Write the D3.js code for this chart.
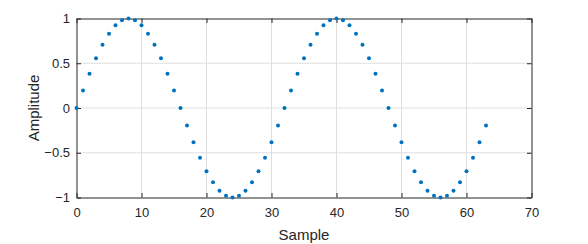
<!DOCTYPE html>
<html>
<head>
<meta charset="utf-8">
<script src="https://cdn.jsdelivr.net/npm/d3@7"></script>
<style>
  body { margin: 0; background: #fff; }
  text { font-family: "Liberation Sans", Arial, sans-serif; fill: #262626; }
</style>
</head>
<body>
<script>
"use strict";

// sample amplitudes (64 samples, index 0..63)
const amplitude = [
  0, 0.195, 0.383, 0.556, 0.707, 0.831, 0.924, 0.981,
  1, 0.981, 0.924, 0.831, 0.707, 0.556, 0.383, 0.195,
  0, -0.195, -0.383, -0.556, -0.707, -0.831, -0.924, -0.981,
  -1, -0.981, -0.924, -0.831, -0.707, -0.556, -0.383, -0.195,
  0, 0.195, 0.383, 0.556, 0.707, 0.831, 0.924, 0.981,
  1, 0.981, 0.924, 0.831, 0.707, 0.556, 0.383, 0.195,
  0, -0.195, -0.383, -0.556, -0.707, -0.831, -0.924, -0.981,
  -1, -0.981, -0.924, -0.831, -0.707, -0.556, -0.383, -0.195
];
const xTicks = [0, 10, 20, 30, 40, 50, 60, 70];
const yTicks = [-1, -0.5, 0, 0.5, 1];

const w = 588;
const h = 244;
const plotLeft = 76.5, plotRight = 531.5, plotTop = 18.5, plotBottom = 197.5;

const svg = d3.select("body").append("svg").attr("width", w).attr("height", h);

const x = d3.scaleLinear().domain([0, 70]).range([plotLeft, plotRight]);
const y = d3.scaleLinear().domain([-1, 1]).range([plotBottom, plotTop]);

//grid
svg.append("g")
  .selectAll("line")
  .data(xTicks.slice(1, -1))
  .join("line")
  .attr("x1", (d) => x(d)).attr("x2", (d) => x(d))
  .attr("y1", plotTop).attr("y2", plotBottom)
  .attr("stroke", "#dfdfdf").attr("stroke-width", 1);

svg.append("g")
  .selectAll("line")
  .data(yTicks.slice(1, -1))
  .join("line")
  .attr("y1", (d) => y(d)).attr("y2", (d) => y(d))
  .attr("x1", plotLeft).attr("x2", plotRight)
  .attr("stroke", "#dfdfdf").attr("stroke-width", 1);

//axes with inward ticks, box like matlab
const styleAxis = (g) => {
  g.selectAll("line").attr("stroke", "#262626");
  g.select(".domain").attr("stroke", "#262626");
  g.selectAll("text").attr("fill", "#262626").style("font-size", "13px")
    .style("font-family", '"Liberation Sans", Arial, sans-serif');
};

svg.append("g")
  .attr("transform", `translate(0, ${plotBottom})`)
  .call(d3.axisBottom(x).tickValues(xTicks).tickSizeInner(-4.5).tickSizeOuter(0).tickPadding(10))
  .call(styleAxis);

svg.append("g")
  .attr("transform", `translate(${plotLeft}, 0)`)
  .call(d3.axisLeft(y).tickValues(yTicks).tickFormat(d3.format("")).tickSizeInner(-4.5).tickSizeOuter(0).tickPadding(6.5))
  .call(styleAxis);

svg.append("g")
  .attr("transform", `translate(0, ${plotTop})`)
  .call(d3.axisTop(x).tickValues(xTicks).tickSizeInner(-4.5).tickSizeOuter(0).tickFormat(""))
  .call(styleAxis);

svg.append("g")
  .attr("transform", `translate(${plotRight}, 0)`)
  .call(d3.axisRight(y).tickValues(yTicks).tickSizeInner(-4.5).tickSizeOuter(0).tickFormat(""))
  .call(styleAxis);

//dots
svg.append("g")
  .selectAll("circle")
  .data(amplitude)
  .join("circle")
  .attr("cx", (d, i) => x(i))
  .attr("cy", (d) => y(d))
  .attr("r", 2)
  .attr("fill", "#0072BD");

//labels
svg.append("text")
  .attr("x", (plotLeft + plotRight) / 2)
  .attr("y", 240)
  .attr("text-anchor", "middle")
  .style("font-size", "15px")
  .text("Sample");

svg.append("text")
  .attr("transform", `translate(39, ${(plotTop + plotBottom) / 2}) rotate(-90)`)
  .attr("text-anchor", "middle")
  .style("font-size", "15px")
  .text("Amplitude");
</script>
</body>
</html>
